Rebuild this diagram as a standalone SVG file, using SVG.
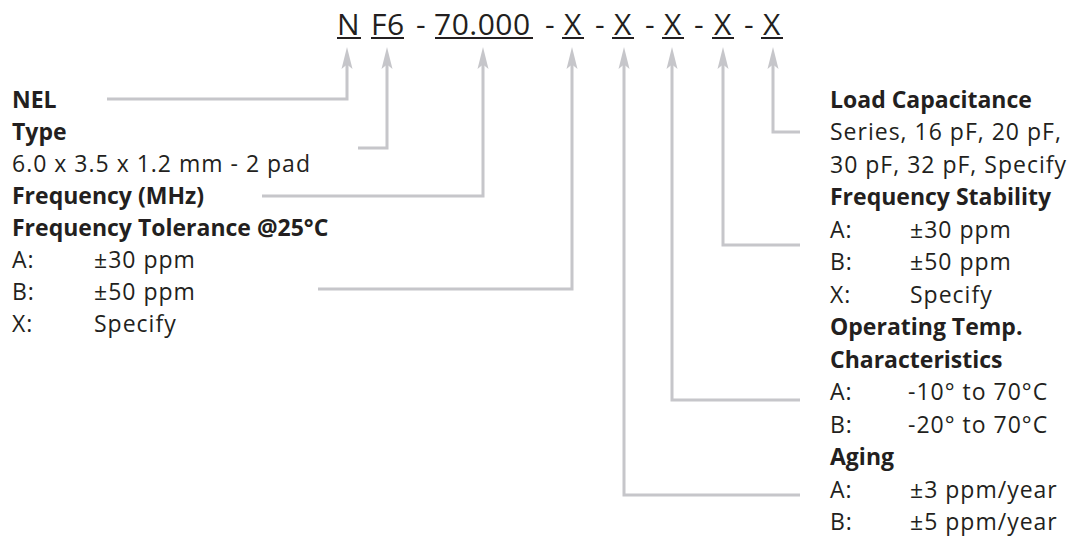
<svg xmlns="http://www.w3.org/2000/svg" width="1084" height="546" viewBox="0 0 1084 546">
<style>
text{font-family:"Open Sans","Noto Sans",sans-serif;fill:#231f20}
.h{font-size:30px;letter-spacing:0.5px}
.b{font-size:23px;font-weight:bold}
.r{font-size:23px;letter-spacing:1px}
.c{fill:none;stroke:#c6c6ca;stroke-width:3}
.u{stroke:#231f20;stroke-width:2}
</style>
<defs>
<marker id="ah" viewBox="0 0 24 12" refX="8" refY="6" markerWidth="24" markerHeight="12" markerUnits="userSpaceOnUse" orient="auto">
<path d="M24 6 L2 0.5 L6.5 6 L2 11.5 Z" fill="#c6c6ca"/>
</marker>
</defs>
<g id="header">
<text class="h" x="337" y="35">N</text>
<text class="h" x="371" y="35">F6</text>
<text class="h" x="416" y="35">-</text>
<text class="h" x="434" y="35">70.000</text>
<text class="h" x="545" y="35">-</text>
<text class="h" x="564" y="35">X</text>
<text class="h" x="595" y="35">-</text>
<text class="h" x="614" y="35">X</text>
<text class="h" x="645" y="35">-</text>
<text class="h" x="664" y="35">X</text>
<text class="h" x="694" y="35">-</text>
<text class="h" x="714" y="35">X</text>
<text class="h" x="744" y="35">-</text>
<text class="h" x="763" y="35">X</text>
<g class="u">
<line x1="337" y1="38" x2="361" y2="38"/>
<line x1="371" y1="38" x2="404" y2="38"/>
<line x1="435" y1="38" x2="533" y2="38"/>
<line x1="562" y1="38" x2="584" y2="38"/>
<line x1="612" y1="38" x2="634" y2="38"/>
<line x1="662" y1="38" x2="684" y2="38"/>
<line x1="712" y1="38" x2="734" y2="38"/>
<line x1="761" y1="38" x2="783" y2="38"/>
</g>
</g>
<g id="connectors">
<path class="c" marker-end="url(#ah)" d="M107 99 H347 V63"/>
<path class="c" marker-end="url(#ah)" d="M358 148 H387 V63"/>
<path class="c" marker-end="url(#ah)" d="M262 196 H483 V63"/>
<path class="c" marker-end="url(#ah)" d="M318 289 H572 V63"/>
<path class="c" marker-end="url(#ah)" d="M800 495 H624 V63"/>
<path class="c" marker-end="url(#ah)" d="M800 400 H672 V63"/>
<path class="c" marker-end="url(#ah)" d="M800 245 H723 V63"/>
<path class="c" marker-end="url(#ah)" d="M800 132 H773 V63"/>
</g>
<g id="left">
<text class="b" x="12" y="107.5">NEL</text>
<text class="b" x="12" y="139.5">Type</text>
<text class="r" x="12" y="171.5">6.0 x 3.5 x 1.2 mm - 2 pad</text>
<text class="b" x="12" y="203.5">Frequency (MHz)</text>
<text class="b" x="12" y="235.5">Frequency Tolerance @25°C</text>
<text class="r" x="12" y="267.5">A:</text><text class="r" x="94" y="267.5">±30 ppm</text>
<text class="r" x="12" y="299.5">B:</text><text class="r" x="94" y="299.5">±50 ppm</text>
<text class="r" x="12" y="331.5">X:</text><text class="r" x="94" y="331.5">Specify</text>
</g>
<g id="right">
<text class="b" x="830" y="107.5">Load Capacitance</text>
<text class="r" x="830" y="140">Series, 16 pF, 20 pF,</text>
<text class="r" x="830" y="172.5">30 pF, 32 pF, Specify</text>
<text class="b" x="830" y="205">Frequency Stability</text>
<text class="r" x="830" y="237.5">A:</text><text class="r" x="910" y="237.5">±30 ppm</text>
<text class="r" x="830" y="270">B:</text><text class="r" x="910" y="270">±50 ppm</text>
<text class="r" x="830" y="302.5">X:</text><text class="r" x="910" y="302.5">Specify</text>
<text class="b" x="830" y="335">Operating Temp.</text>
<text class="b" x="830" y="367.5">Characteristics</text>
<text class="r" x="830" y="400">A:</text><text class="r" x="908" y="400">-10° to 70°C</text>
<text class="r" x="830" y="432.5">B:</text><text class="r" x="908" y="432.5">-20° to 70°C</text>
<text class="b" x="830" y="465">Aging</text>
<text class="r" x="830" y="497.5">A:</text><text class="r" x="910" y="497.5">±3 ppm/year</text>
<text class="r" x="830" y="530">B:</text><text class="r" x="910" y="530">±5 ppm/year</text>
</g>
</svg>
